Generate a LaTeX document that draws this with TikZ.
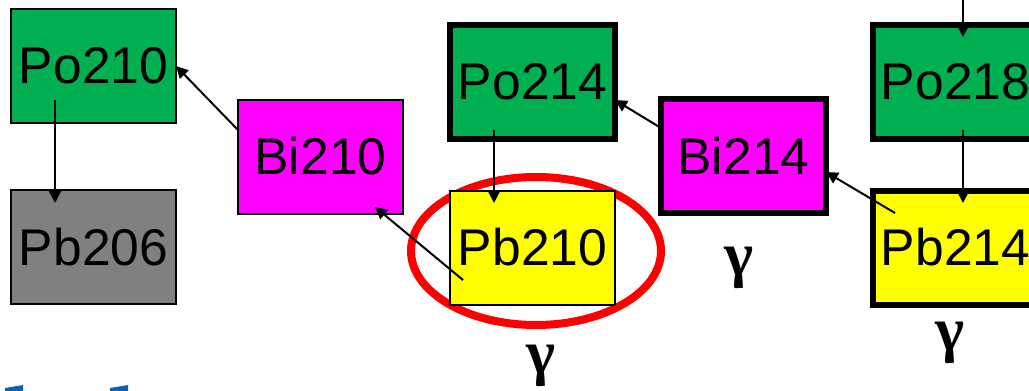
\documentclass[tikz,border=0pt]{standalone}
\usepackage{fontspec}
\setmainfont{Liberation Sans}
\newfontfamily\greekfont{Liberation Serif}
\usepackage{tikz}
\usetikzlibrary{arrows.meta,positioning}
\definecolor{pogreen}{HTML}{00B050}
\definecolor{bimag}{HTML}{FF00FF}
\definecolor{pbyellow}{HTML}{FFFF00}
\definecolor{pbgray}{HTML}{808080}
\definecolor{titleblue}{HTML}{0563B0}

\begin{document}
\begin{tikzpicture}[
  x=0.5pt, y=-0.5pt,
  node distance=26pt,
  box/.style={draw, line width=1pt, inner sep=0pt, outer sep=0pt, minimum width=82.5pt, minimum height=57pt, font=\fontsize{25.8}{30}\selectfont},
  heavy/.style={box, line width=3pt},
  po/.style={fill=pogreen},
  bi/.style={fill=bimag},
  pb/.style={fill=pbyellow},
  gam/.style={inner sep=0pt, font=\greekfont\bfseries\fontsize{31}{34}\selectfont},
  ring/.style={draw=red, line width=4pt},
  arrow/.style={-{Triangle[length=6pt,width=6pt]}, line width=1pt}
]
\useasboundingbox (0,0) rectangle (1029,391);

\draw[ring] (536,251) ellipse [x radius=62.5pt, y radius=37pt];
\fill[titleblue] (5,388) -- (23,385) -- (23,395) -- (5,395) -- cycle;
\fill[titleblue] (110,388) -- (128,385) -- (128,395) -- (110,395) -- cycle;

\node[box, po] (po210) at (93.5,66) {Po210};
\node[box, fill=pbgray, below=33.5pt of po210] (pb206) {Pb206};
\node[box, bi] (bi210) at (320.5,156.5) {Bi210};
\node[box, pb] (pb210) at (532.5,247.5) {Pb210};
\node[heavy, po, above=of pb210] (po214) {Po214};
\node[heavy, bi] (bi214) at (743.5,156) {Bi214};
\node[heavy, pb] (pb214) at (955.5,247.5) {Pb214};
\node[heavy, po, above=of pb214] (po218) {Po218};

\node[gam] (gpb210) at (541,366) {γ};
\node[gam] (gbi214) at (739,268) {γ};
\node[gam] (gpb214) at (950,343) {γ};

\coordinate (feed) at (963,-10);
\draw[arrow] (feed) -- ([xshift=3.75pt,yshift=-6.25pt]po218.north);
\draw[arrow] ([xshift=3.75pt,yshift=4.25pt]po218.south) -- ([xshift=3.75pt,yshift=-6.25pt]pb214.north);
\draw[arrow] ([xshift=-30.25pt,yshift=17.25pt]pb214.center) -- ([yshift=-8pt]bi214.east);
\draw[arrow] ([yshift=14pt]bi214.west) -- ([yshift=-9.25pt]po214.east);
\draw[arrow] ([xshift=-19.25pt,yshift=4.25pt]po214.south) -- ([xshift=-19.25pt,yshift=-6.25pt]pb210.north);
\draw[arrow] ([xshift=-34.75pt,yshift=-16.25pt]pb210.center) -- ([xshift=27.25pt,yshift=-25.25pt]bi210.center);
\draw[arrow] ([yshift=13.25pt]bi210.west) -- (po210.east);
\draw[arrow] ([xshift=-19.25pt,yshift=11.5pt]po210.south) -- ([xshift=-19.25pt,yshift=-6.5pt]pb206.north);
\end{tikzpicture}
\end{document}
